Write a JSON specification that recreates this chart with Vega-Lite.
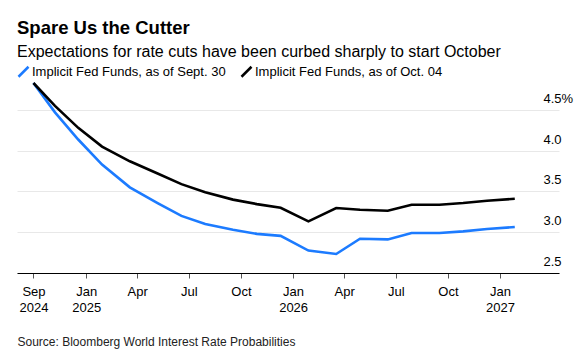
{
  "$schema": "https://vega.github.io/schema/vega-lite/v6.json",
  "width": 542,
  "height": 190,
  "autosize": "none",
  "padding": {"left": 17, "top": 83, "right": 26, "bottom": 90},
  "background": "white",
  "config": {
    "font": "Liberation Sans",
    "view": {"stroke": null}
  },
  "title": {
    "text": "Spare Us the Cutter",
    "subtitle": "Expectations for rate cuts have been curbed sharply to start October",
    "anchor": "start",
    "frame": "group",
    "font": "Liberation Sans",
    "fontSize": 18.5,
    "fontWeight": "bold",
    "color": "#000000",
    "subtitleFont": "Liberation Sans",
    "subtitleFontSize": 16,
    "subtitleColor": "#000000",
    "subtitlePadding": 6,
    "offset": 5.5
  },
  "data": {
    "values": [
      {"date": "2024-09-30", "series": "Implicit Fed Funds, as of Sept. 30", "rate": 4.83},
      {"date": "2024-11-07", "series": "Implicit Fed Funds, as of Sept. 30", "rate": 4.47},
      {"date": "2024-12-18", "series": "Implicit Fed Funds, as of Sept. 30", "rate": 4.137},
      {"date": "2025-01-29", "series": "Implicit Fed Funds, as of Sept. 30", "rate": 3.83},
      {"date": "2025-03-19", "series": "Implicit Fed Funds, as of Sept. 30", "rate": 3.55},
      {"date": "2025-05-07", "series": "Implicit Fed Funds, as of Sept. 30", "rate": 3.358},
      {"date": "2025-06-18", "series": "Implicit Fed Funds, as of Sept. 30", "rate": 3.2},
      {"date": "2025-07-30", "series": "Implicit Fed Funds, as of Sept. 30", "rate": 3.1},
      {"date": "2025-09-17", "series": "Implicit Fed Funds, as of Sept. 30", "rate": 3.03},
      {"date": "2025-10-29", "series": "Implicit Fed Funds, as of Sept. 30", "rate": 2.98},
      {"date": "2025-12-10", "series": "Implicit Fed Funds, as of Sept. 30", "rate": 2.955},
      {"date": "2026-01-28", "series": "Implicit Fed Funds, as of Sept. 30", "rate": 2.775},
      {"date": "2026-03-18", "series": "Implicit Fed Funds, as of Sept. 30", "rate": 2.733},
      {"date": "2026-04-29", "series": "Implicit Fed Funds, as of Sept. 30", "rate": 2.92},
      {"date": "2026-06-17", "series": "Implicit Fed Funds, as of Sept. 30", "rate": 2.912},
      {"date": "2026-07-29", "series": "Implicit Fed Funds, as of Sept. 30", "rate": 2.99},
      {"date": "2026-09-16", "series": "Implicit Fed Funds, as of Sept. 30", "rate": 2.99},
      {"date": "2026-10-28", "series": "Implicit Fed Funds, as of Sept. 30", "rate": 3.01},
      {"date": "2026-12-09", "series": "Implicit Fed Funds, as of Sept. 30", "rate": 3.039},
      {"date": "2027-01-27", "series": "Implicit Fed Funds, as of Sept. 30", "rate": 3.064},
      {"date": "2024-09-30", "series": "Implicit Fed Funds, as of Oct. 04", "rate": 4.83},
      {"date": "2024-11-07", "series": "Implicit Fed Funds, as of Oct. 04", "rate": 4.55},
      {"date": "2024-12-18", "series": "Implicit Fed Funds, as of Oct. 04", "rate": 4.28},
      {"date": "2025-01-29", "series": "Implicit Fed Funds, as of Oct. 04", "rate": 4.05},
      {"date": "2025-03-19", "series": "Implicit Fed Funds, as of Oct. 04", "rate": 3.87},
      {"date": "2025-05-07", "series": "Implicit Fed Funds, as of Oct. 04", "rate": 3.72},
      {"date": "2025-06-18", "series": "Implicit Fed Funds, as of Oct. 04", "rate": 3.59},
      {"date": "2025-07-30", "series": "Implicit Fed Funds, as of Oct. 04", "rate": 3.49},
      {"date": "2025-09-17", "series": "Implicit Fed Funds, as of Oct. 04", "rate": 3.4},
      {"date": "2025-10-29", "series": "Implicit Fed Funds, as of Oct. 04", "rate": 3.345},
      {"date": "2025-12-10", "series": "Implicit Fed Funds, as of Oct. 04", "rate": 3.3},
      {"date": "2026-01-28", "series": "Implicit Fed Funds, as of Oct. 04", "rate": 3.133},
      {"date": "2026-03-18", "series": "Implicit Fed Funds, as of Oct. 04", "rate": 3.297},
      {"date": "2026-04-29", "series": "Implicit Fed Funds, as of Oct. 04", "rate": 3.276},
      {"date": "2026-06-17", "series": "Implicit Fed Funds, as of Oct. 04", "rate": 3.263},
      {"date": "2026-07-29", "series": "Implicit Fed Funds, as of Oct. 04", "rate": 3.337},
      {"date": "2026-09-16", "series": "Implicit Fed Funds, as of Oct. 04", "rate": 3.337},
      {"date": "2026-10-28", "series": "Implicit Fed Funds, as of Oct. 04", "rate": 3.358},
      {"date": "2026-12-09", "series": "Implicit Fed Funds, as of Oct. 04", "rate": 3.386},
      {"date": "2027-01-27", "series": "Implicit Fed Funds, as of Oct. 04", "rate": 3.41}
    ]
  },
  "mark": {"type": "line", "strokeWidth": 2.6, "clip": false},
  "encoding": {
    "x": {
      "field": "date",
      "type": "temporal",
      "scale": {
        "type": "utc",
        "domain": [
          {"year": 2024, "month": 9, "date": 1, "utc": true},
          {"year": 2027, "month": 4, "date": 15, "utc": true}
        ]
      },
      "axis": {
        "values": [
          {"year": 2024, "month": 9, "date": 30, "utc": true},
          {"year": 2025, "month": 1, "date": 1, "utc": true},
          {"year": 2025, "month": 4, "date": 1, "utc": true},
          {"year": 2025, "month": 7, "date": 1, "utc": true},
          {"year": 2025, "month": 10, "date": 1, "utc": true},
          {"year": 2026, "month": 1, "date": 1, "utc": true},
          {"year": 2026, "month": 4, "date": 1, "utc": true},
          {"year": 2026, "month": 7, "date": 1, "utc": true},
          {"year": 2026, "month": 10, "date": 1, "utc": true},
          {"year": 2027, "month": 1, "date": 1, "utc": true}
        ],
        "labelExpr": "[utcFormat(datum.value, '%b'), (utcmonth(datum.value) == 0 || utcyear(datum.value) == 2024) ? utcFormat(datum.value, '%Y') : '']",
        "grid": false,
        "domain": true,
        "domainColor": "#000000",
        "domainWidth": 1,
        "ticks": true,
        "tickColor": "#555555",
        "tickSize": 5,
        "labelFont": "Liberation Sans",
        "labelFontSize": 13,
        "labelColor": "#000000",
        "labelPadding": 7.5,
        "labelLineHeight": 16,
        "labelAngle": 0,
        "labelFlush": false,
        "labelOverlap": false,
        "title": "Source: Bloomberg World Interest Rate Probabilities",
        "titleFont": "Liberation Sans",
        "titleFontSize": 12,
        "titleFontWeight": "normal",
        "titleColor": "#222222",
        "titleAnchor": "start",
        "titleAlign": "left",
        "titleBaseline": "alphabetic",
        "titleX": 0,
        "titleY": 72
      }
    },
    "y": {
      "field": "rate",
      "type": "quantitative",
      "scale": {"domain": [2.5, 4.83], "nice": false, "zero": false},
      "axis": {
        "orient": "right",
        "values": [2.5, 3, 3.5, 4, 4.5],
        "labelExpr": "datum.value == 4.5 ? '4.5%' : format(datum.value, '.1f')",
        "domain": false,
        "ticks": false,
        "tickSize": 0,
        "grid": true,
        "gridColor": "#e8e8e8",
        "gridWidth": 1,
        "labelFont": "Liberation Sans",
        "labelFontSize": 13,
        "labelColor": "#000000",
        "labelAlign": "left",
        "labelBaseline": "alphabetic",
        "labelPadding": -16,
        "labelOffset": -7.5,
        "title": null
      }
    },
    "color": {
      "field": "series",
      "type": "nominal",
      "scale": {
        "domain": ["Implicit Fed Funds, as of Sept. 30", "Implicit Fed Funds, as of Oct. 04"],
        "range": ["#1c7bff", "#000000"]
      },
      "legend": {
        "title": null,
        "orient": "none",
        "direction": "horizontal",
        "legendX": 0,
        "legendY": -18,
        "symbolType": "M-1,1L1,-1",
        "symbolSize": 100,
        "symbolStrokeWidth": 2.5,
        "labelFont": "Liberation Sans",
        "labelFontSize": 13,
        "labelColor": "#000000",
        "labelOffset": 2,
        "labelLimit": 0,
        "columnPadding": 10,
        "padding": 0
      }
    }
  }
}
